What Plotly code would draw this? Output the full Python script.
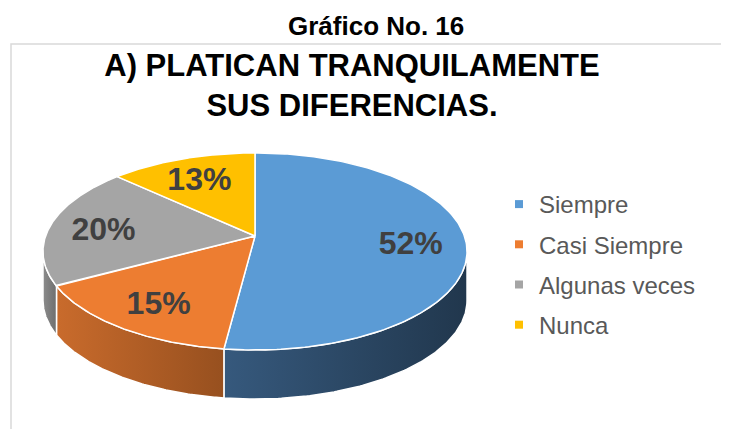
import numpy as np
import plotly.graph_objects as go

# ---- data ----
categories = ["Siempre", "Casi Siempre", "Algunas veces", "Nunca"]
percentages = [52, 15, 20, 13]
caption = "Gráfico No. 16"
chart_title = "A) PLATICAN TRANQUILAMENTE<br>SUS DIFERENCIAS."

# ---- styles ----
top_colors = ["#5B9BD5", "#ED7D31", "#A5A5A5", "#FFC000"]
side_colors = [("#36597D", "#21374D"), ("#C96B2C", "#97501F"),
               ("#8C8C8C", "#6E6E6E"), ("#D9A300", "#A87E00")]
W, H = 729, 429
OFF = 8  # page body margin compensation
CX, CY = 255.0, 236.0      # projected pie centre (pixels)
A, B, K = 209.4, 96.1, 0.157  # perspective ellipse parameters
DEPTH = 49.0
LABEL_R = 0.74
LABEL_DY = 5.0
FONT = "Liberation Sans, Arial, sans-serif"


def proj(theta_deg, r=1.0):
    t = np.radians(theta_deg)
    u, v = r * np.sin(t), r * np.cos(t)
    den = 1 + K * v
    return CX + A * u / den, CY - B * v / den


total = float(sum(percentages))
bounds = np.concatenate([[0.0], np.cumsum(percentages) / total * 360.0])

# front arc visible between the extreme left/right points of the ellipse
th_right = np.degrees(np.arctan2(np.sqrt(1 - K ** 2), -K))
th_left = 360.0 - th_right

fig = go.Figure()

# side walls
for i, cat in enumerate(categories):
    a0, a1 = max(bounds[i], th_right), min(bounds[i + 1], th_left)
    if a1 <= a0:
        continue
    th = np.linspace(a0, a1, 120)
    xs, ys = proj(th)
    px = np.concatenate([xs, xs[::-1], xs[:1]])
    py = np.concatenate([ys, ys[::-1] + DEPTH, ys[:1]])
    light, dark = side_colors[i]
    fig.add_trace(go.Scatter(
        x=px, y=py, mode="lines", fill="toself",
        fillgradient=dict(type="horizontal", colorscale=[[0, light], [1, dark]]),
        line=dict(color="white", width=1.5),
        hoverinfo="skip", showlegend=False))

# top faces
for i, cat in enumerate(categories):
    th = np.linspace(bounds[i], bounds[i + 1], 200)
    xs, ys = proj(th)
    px = np.concatenate([[CX], xs, [CX]])
    py = np.concatenate([[CY], ys, [CY]])
    fig.add_trace(go.Scatter(
        x=px, y=py, mode="lines", fill="toself", fillcolor=top_colors[i],
        line=dict(color="white", width=1.5),
        name=cat, hoverinfo="name", showlegend=False))

# data labels
mids = (bounds[:-1] + bounds[1:]) / 2
lx, ly = proj(mids, LABEL_R)
fig.add_trace(go.Scatter(
    x=lx, y=ly + LABEL_DY, mode="text",
    text=[f"<b>{p}%</b>" for p in percentages],
    textposition="middle center",
    textfont=dict(family=FONT, size=32, color="#404040"),
    hoverinfo="skip", showlegend=False))

# legend entries
for i, cat in enumerate(categories):
    fig.add_trace(go.Scatter(
        x=[None], y=[None], mode="markers", name=cat, legendgroup=cat,
        marker=dict(symbol="square", size=8, color=top_colors[i]),
        showlegend=True))

# chart border
fig.add_shape(type="rect", x0=11, y0=44, x1=W + 30, y1=H + 30,
              line=dict(color="#D9D9D9", width=1.5), layer="below")

fig.add_annotation(text=f"<b>{caption}</b>", x=376, y=26, xref="x", yref="y",
                   showarrow=False, font=dict(family=FONT, size=26, color="black"))

fig.update_layout(
    width=W, height=H,
    margin=dict(l=0, r=0, t=0, b=0),
    paper_bgcolor="white", plot_bgcolor="white",
    title=dict(text=f"<b>{chart_title}</b>", x=(352 - OFF) / W, xanchor="center",
               y=1 - 68 / H, yanchor="top",
               font=dict(family=FONT, size=31, color="black")),
    xaxis=dict(range=[OFF, W + OFF], visible=False, fixedrange=True),
    yaxis=dict(range=[H + OFF, OFF], visible=False, fixedrange=True),
    legend=dict(x=491 / W, xanchor="left", y=1 - 174 / H, yanchor="top",
                font=dict(family=FONT, size=24, color="#595959"),
                tracegroupgap=6, itemwidth=30, bgcolor="rgba(0,0,0,0)"),
    showlegend=True,
)

fig.write_html("out.html")
